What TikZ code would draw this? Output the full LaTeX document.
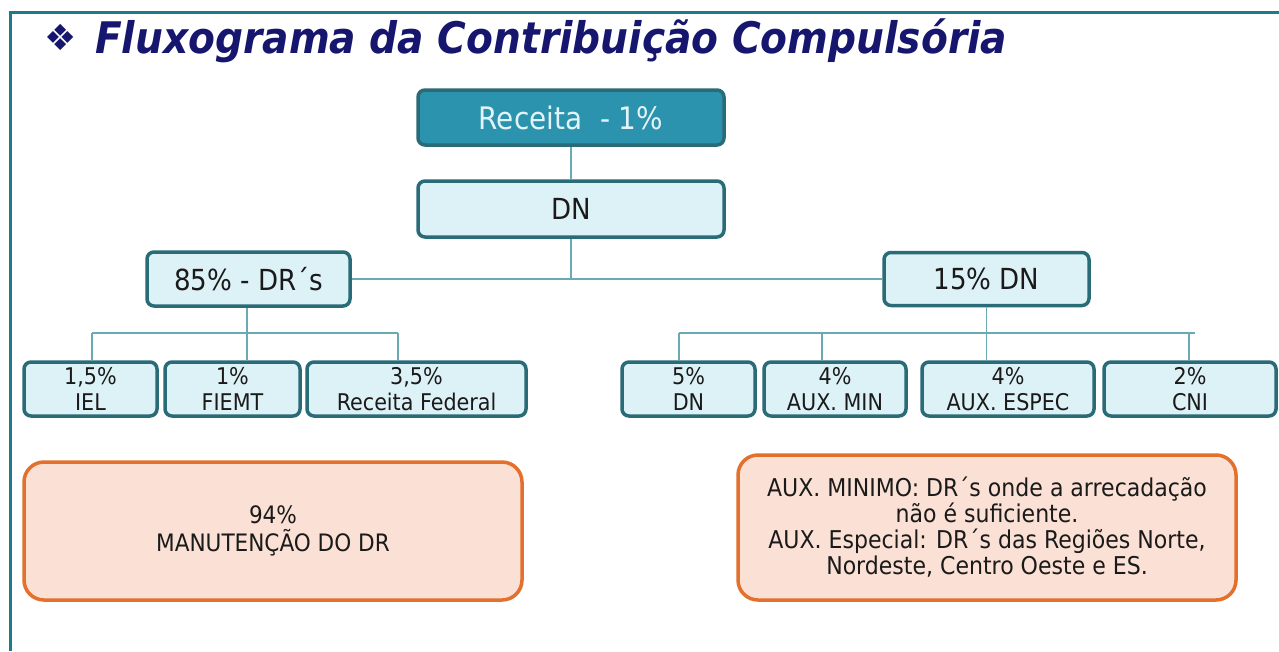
\documentclass[tikz,border=0pt]{standalone}
\usepackage{fontspec}
\IfFontExistsTF{DejaVu Sans Condensed}{\setmainfont{DejaVu Sans Condensed}}{\setmainfont{DejaVu Sans}}
\newfontfamily\symfont{DejaVu Sans}
\definecolor{frameteal}{HTML}{1E7B8A}
\definecolor{tealdark}{HTML}{2A6B78}
\definecolor{tealpale}{HTML}{DDF2F7}
\definecolor{tealmid}{HTML}{2B93AD}
\definecolor{tealtext}{HTML}{E2F4F8}
\definecolor{linkteal}{HTML}{6AAAB5}
\definecolor{orangeedge}{HTML}{E3702C}
\definecolor{peach}{HTML}{FBE1D5}
\definecolor{navy}{HTML}{16166E}
\definecolor{textdark}{HTML}{1A1A1A}
\tikzset{
  boxnode/.style={rounded corners=7pt, draw=tealdark, line width=3.5pt, fill=tealpale,
    text=textdark, align=center, inner sep=0pt},
  topnode/.style={boxnode, fill=tealmid, text=tealtext},
  bignode/.style={boxnode, font=\fontsize{29}{33}\selectfont},
  smallnode/.style={boxnode, minimum height=54pt, font=\fontsize{23}{26}\selectfont},
  notenode/.style={rounded corners=20pt, draw=orangeedge, line width=3.5pt, fill=peach,
    text=textdark, align=center, inner sep=0pt},
  link/.style={draw=linkteal, line width=1.8pt},
}
\begin{document}
\begin{tikzpicture}[x=1pt,y=-1pt]
\useasboundingbox (0,0) rectangle (1279,651);
\fill[white] (0,0) rectangle (1279,651);
% frame
\draw[frameteal, line width=3pt] (10,651) -- (10,12) -- (1279,12);
% title
\node[anchor=base west, text=navy, inner sep=0pt, font=\symfont\fontsize{36}{40}\selectfont] (bullet) at (44,50) {❖};
\node[anchor=base west, text=navy, inner sep=0pt, font=\fontsize{43.5}{48}\selectfont\bfseries\itshape] (title) at (95,53) {Fluxograma da Contribuição Compulsória};
% main boxes
\node[topnode, minimum width=306pt, minimum height=55pt, font=\fontsize{31}{35}\selectfont] (receita) at (571,117.5) {Receita\ \ - 1\%};
\node[bignode, minimum width=306pt, minimum height=56pt] (dn) at (571,209) {DN};
\node[bignode, minimum width=203pt, minimum height=54pt] (dr85) at (248.5,279) {85\% - DR´s};
\node[bignode, minimum width=205pt, minimum height=53pt] (dn15) at (986.5,279) {15\% DN};
% small boxes
\node[smallnode, minimum width=133pt] (iel) at (90.5,389) {1,5\%\\IEL};
\node[smallnode, minimum width=135pt] (fiemt) at (232.5,389) {1\%\\FIEMT};
\node[smallnode, minimum width=219pt] (rf) at (416.5,389) {3,5\%\\Receita Federal};
\node[smallnode, minimum width=133pt] (dn5) at (688.5,389) {5\%\\DN};
\node[smallnode, minimum width=142pt] (auxmin) at (835,389) {4\%\\AUX. MIN};
\node[smallnode, minimum width=172pt] (auxesp) at (1008,389) {4\%\\AUX. ESPEC};
\node[smallnode, minimum width=172pt] (cni) at (1190,389) {2\%\\CNI};
% notes
\node[notenode, minimum width=498pt, minimum height=138pt, font=\fontsize{24}{28}\selectfont] (note1) at (273,531) {94\%\\MANUTENÇÃO DO DR};
\node[notenode, minimum width=498pt, minimum height=145pt, font=\fontsize{24.5}{26}\selectfont] (note2) at (987,527.5) {AUX. MINIMO: DR´s onde a arrecadação\\não é suficiente.\\AUX. Especial: DR´s das Regiões Norte,\\Nordeste, Centro Oeste e ES.};
% connectors
\coordinate (jmain) at (571,279);
\coordinate (lbus) at (247,333);
\coordinate (lb1) at (92,333);
\coordinate (lb3) at (398,333);
\coordinate (rbus) at (986.5,333);
\coordinate (rb1) at (679,333);
\coordinate (rb2) at (822,333);
\coordinate (rb4) at (1189,333);
\coordinate (rbend) at (1195,333);
\draw[link] (receita.south) -- (dn.north);
\draw[link] (dn.south) -- (jmain);
\draw[link] (dr85.east) -- (dn15.west);
\draw[link] (dr85.south -| lbus) -- (lbus);
\draw[link] (lb1) -- (lb3);
\draw[link] (lb1) -- (lb1 |- iel.north);
\draw[link] (lbus) -- (lbus |- fiemt.north);
\draw[link] (lb3) -- (lb3 |- rf.north);
\draw[link] (dn15.south) -- (rbus);
\draw[link] (rb1) -- (rbend);
\draw[link] (rb1) -- (rb1 |- dn5.north);
\draw[link] (rb2) -- (rb2 |- auxmin.north);
\draw[link] (rbus) -- (rbus |- auxesp.north);
\draw[link] (rb4) -- (rb4 |- cni.north);
\end{tikzpicture}
\end{document}
